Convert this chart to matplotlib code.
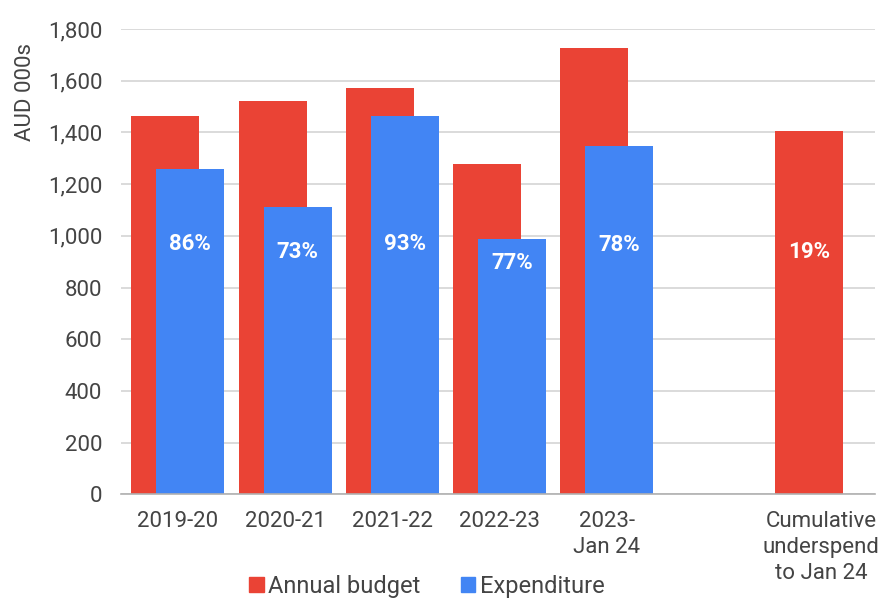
import matplotlib
matplotlib.use("Agg")
import matplotlib.pyplot as plt
from matplotlib.ticker import FuncFormatter
from matplotlib.patches import Patch
import numpy as np

# data (AUD 000s)
categories = ["2019-20", "2020-21", "2021-22", "2022-23", "2023-\nJan 24", "Cumulative\nunderspend\nto Jan 24"]
slots = [0, 1, 2, 3, 4, 6]   # slot 5 is left empty in the original
budget = [1462, 1522, 1571, 1278, 1728, 1405]
expenditure = [1258, 1112, 1462, 986, 1347, 0]
pct_labels = ["86%", "73%", "93%", "77%", "78%", "19%"]
label_height = [970, 939, 968, 896, 965, 939]

RED = "#ea4335"
BLUE = "#4285f4"
GREY = "#444444"
FS = 16

plt.rcParams["font.family"] = ["Roboto", "DejaVu Sans"]

fig = plt.figure(figsize=(8.81, 5.99), dpi=100)
ax = fig.add_axes([0.1373, 0.1745, 0.9932 - 0.1373, 0.9516 - 0.1745])

x = np.array(slots, dtype=float)
w = 0.634
off = 0.116
ax.bar(x - off, budget, width=w, color=RED, zorder=2)
ax.bar(x + off, expenditure, width=w, color=BLUE, zorder=3)

#percent labels sit on the blue bar, or on the red one where there is no blue
for i in range(len(slots)):
    xc = x[i] + off if expenditure[i] > 0 else x[i] - off
    ax.text(xc, label_height[i], pct_labels[i], ha="center", va="center",
            color="white", fontsize=FS, fontweight="bold", zorder=4)

ax.set_xlim(-0.53, 6.5)
ax.set_ylim(0, 1800)
ax.set_yticks(np.arange(0, 1801, 200))
ax.yaxis.set_major_formatter(FuncFormatter(lambda v, p: f"{int(v):,}"))
ax.set_xticks(x)
ax.set_xticklabels(categories, linespacing=1.3)

ax.grid(axis="y", color="#d4d4d4", linewidth=1.2, zorder=0)
ax.set_axisbelow(True)
for s in ["top", "right", "left"]:
    ax.spines[s].set_visible(False)
ax.spines["bottom"].set_color("#b0b0b0")
ax.spines["bottom"].set_linewidth(1.2)
ax.spines["bottom"].set_zorder(5)

ax.tick_params(axis="y", length=0, pad=13.5, labelsize=FS, labelcolor=GREY)
ax.tick_params(axis="x", length=0, pad=12, labelsize=FS, labelcolor=GREY)

fig.text(26 / 881, 1 - 92 / 599, "AUD 000s", rotation=90, ha="center", va="center",
         fontsize=FS, color=GREY)

handles = [Patch(color=RED, label="Annual budget"), Patch(color=BLUE, label="Expenditure")]
fig.legend(handles=handles, loc="center", bbox_to_anchor=(427 / 881, 1 - 586 / 599), ncol=2,
           frameon=False, fontsize=17, labelcolor=GREY, handlelength=0.6,
           handleheight=0.6, handletextpad=0.2, columnspacing=1.7,
           borderpad=0, borderaxespad=0)

fig.savefig("out.png", dpi=100)
